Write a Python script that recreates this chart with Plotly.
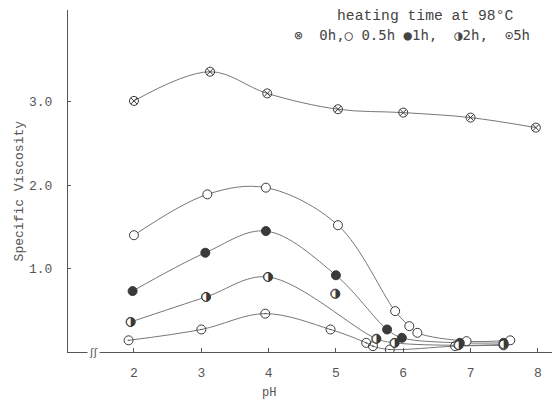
import plotly.graph_objects as go

# ---- data ----
ph_0h = [2.0, 3.13, 3.98, 5.03, 6.0, 7.0, 7.97]
sv_0h = [3.01, 3.36, 3.10, 2.91, 2.87, 2.81, 2.69]

ph_05h = [2.0, 3.09, 3.96, 5.03, 5.88, 6.09, 6.21, 6.94, 7.59]
sv_05h = [1.40, 1.89, 1.97, 1.52, 0.49, 0.31, 0.23, 0.13, 0.14]

ph_1h = [1.98, 3.06, 3.96, 5.0, 5.76, 5.98, 6.84, 7.49]
sv_1h = [0.73, 1.19, 1.45, 0.92, 0.27, 0.17, 0.11, 0.11]

ph_2h = [1.95, 3.07, 3.99, 4.99, 5.6, 5.87, 6.82, 7.49]
sv_2h = [0.36, 0.66, 0.90, 0.70, 0.16, 0.11, 0.08, 0.09]
off_curve_2h = [3]  # index of the 2h point not on the drawn curve

ph_5h = [1.92, 3.0, 3.95, 4.92, 5.45, 5.55, 5.8, 6.77, 7.49]
sv_5h = [0.14, 0.27, 0.46, 0.27, 0.11, 0.07, 0.03, 0.07, 0.08]

x_ticks = [2, 3, 4, 5, 6, 7, 8]
y_ticks = [1.0, 2.0, 3.0]
y_tick_labels = ["1.0", "2.0", "3.0"]

LINE = dict(color="#777777", width=1, shape="spline", smoothing=1.0)
MK = "#3a3a3a"

fig = go.Figure()

def curve(x, y):
    fig.add_trace(go.Scatter(x=x, y=y, mode="lines", line=LINE,
                             hoverinfo="skip", showlegend=False))

curve(ph_0h, sv_0h)
curve(ph_05h, sv_05h)
curve(ph_1h, sv_1h)
curve([p for i, p in enumerate(ph_2h) if i not in off_curve_2h],
      [v for i, v in enumerate(sv_2h) if i not in off_curve_2h])
curve(ph_5h, sv_5h)

def markers(x, y, symbol, fill="white", size=9):
    fig.add_trace(go.Scatter(
        x=x, y=y, mode="markers", showlegend=False,
        marker=dict(symbol=symbol, size=size, color=fill,
                    line=dict(color=MK, width=1))))

markers(ph_0h, sv_0h, "circle-x-open", fill=MK, size=9)
markers(ph_05h, sv_05h, "circle", fill="white", size=9)
markers(ph_1h, sv_1h, "circle", fill=MK, size=9)
markers(ph_5h, sv_5h, "circle-open-dot", fill=MK, size=9)
# half-filled circles
markers(ph_2h, sv_2h, "circle", fill="white", size=9)
fig.add_trace(go.Scatter(
    x=ph_2h, y=sv_2h, mode="text", text=["◑"] * len(ph_2h),
    textposition="middle center", showlegend=False,
    textfont=dict(family="DejaVu Sans", size=12, color=MK)))

fig.update_layout(
    width=552, height=399,
    margin=dict(l=68, r=0, t=10, b=47),
    paper_bgcolor="white", plot_bgcolor="white",
    font=dict(family="Liberation Mono", size=13, color="#555"),
    xaxis=dict(range=[1.02, 8.21], tickvals=x_ticks, ticks="inside",
               ticklen=4, tickcolor="#555", showgrid=False, zeroline=False,
               showline=True, linecolor="#555", linewidth=1,
               ticklabelstandoff=8, tickfont=dict(size=13)),
    yaxis=dict(range=[0, 4.1], tickvals=y_ticks, ticktext=y_tick_labels,
               ticks="inside", ticklen=3, tickcolor="#555", showgrid=False,
               zeroline=False, showline=True, linecolor="#555", linewidth=1,
               ticklabelstandoff=12, tickfont=dict(size=13)),
)

fig.add_annotation(x=4, y=-0.12, xref="x", yref="paper", text="pH",
                   showarrow=False, yanchor="middle",
                   font=dict(size=12, color="#555"))
fig.add_annotation(x=-0.101, y=0.47, xref="paper", yref="paper",
                   xanchor="center", yanchor="middle",
                   text="Specific Viscosity", textangle=-90, showarrow=False,
                   font=dict(size=13, color="#555"))
fig.add_annotation(x=1.4, y=0, xref="x", yref="y", text="ʃʃ",
                   showarrow=False, bgcolor="white",
                   font=dict(family="DejaVu Sans", size=11, color="#555"))
fig.add_annotation(x=0.923, y=0.982, xref="paper", yref="paper",
                   text="heating time at 98°C", showarrow=False,
                   xanchor="right", yanchor="middle",
                   font=dict(size=14.7, color="#444"))
fig.add_annotation(x=0.958, y=0.927, xref="paper", yref="paper",
                   text="⊗  0h,○ 0.5h ●1h,  ◑2h,  ⊙5h", showarrow=False,
                   xanchor="right", yanchor="middle",
                   font=dict(family="DejaVu Sans Mono", size=14, color="#444"))

fig.write_html("out.html")
